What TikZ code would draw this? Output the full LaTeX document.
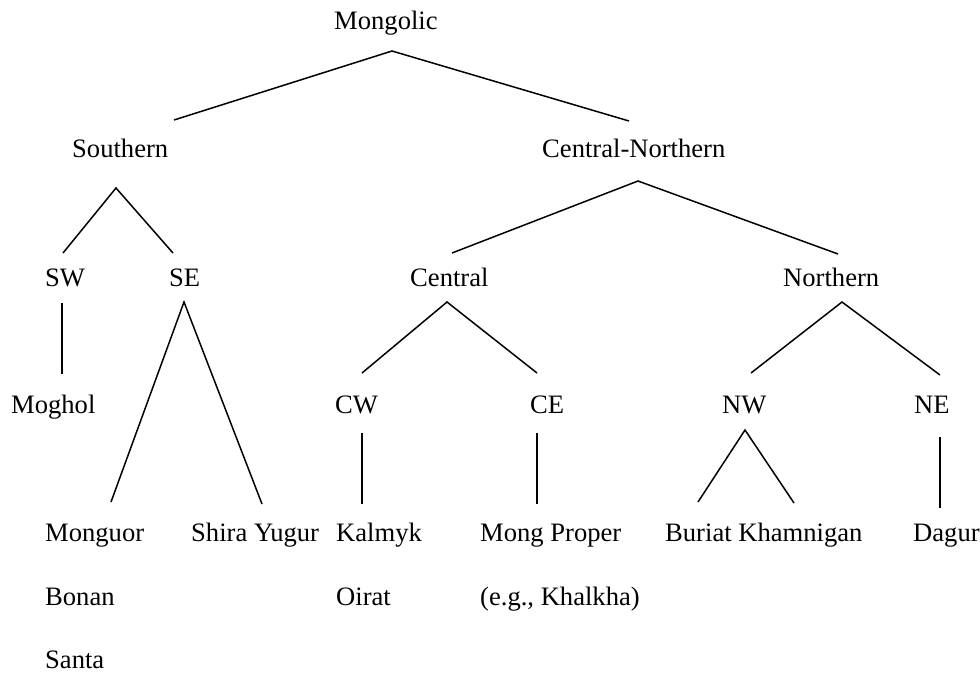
\documentclass[tikz,border=0pt]{standalone}
\usepackage{fontspec}
\setmainfont{Liberation Serif}
\begin{document}
\begin{tikzpicture}[x=1pt,y=-1pt,
  lbl/.style={anchor=base west,inner sep=0pt,font=\fontsize{26.6}{32}\selectfont},
  edge/.style={line width=1.5pt,line cap=butt}]
\useasboundingbox (0,0) rectangle (980,673);
% labels
\node[lbl] (mongolic) at (334,29) {Mongolic};
\node[lbl] (southern) at (72,157) {Southern};
\node[lbl] (cn) at (542,157) {Central-Northern};
\node[lbl] (sw) at (45,286) {SW};
\node[lbl] (se) at (169,286) {SE};
\node[lbl] (central) at (410,286) {Central};
\node[lbl] (northern) at (783,286) {Northern};
\node[lbl] (moghol) at (11,413) {Moghol};
\node[lbl] (cw) at (335,413) {CW};
\node[lbl] (ce) at (530,413) {CE};
\node[lbl] (nw) at (722,413) {NW};
\node[lbl] (ne) at (914,413) {NE};
\node[lbl] (monguor) at (45,541) {Monguor};
\node[lbl] (shira) at (191,541) {Shira Yugur};
\node[lbl] (kalmyk) at (336,541) {Kalmyk};
\node[lbl] (mong) at (480,541) {Mong Proper};
\node[lbl] (buriat) at (665,541) {Buriat Khamnigan};
\node[lbl] (dagur) at (913,541) {Dagur};
\node[lbl] (bonan) at (45,605) {Bonan};
\node[lbl] (oirat) at (336,605) {Oirat};
\node[lbl] (khalkha) at (480,605) {(e.g., Khalkha)};
\node[lbl] (santa) at (45,668) {Santa};
% connector ends
\coordinate (mongolic-b) at (392,51);
\coordinate (southern-t) at (174,120);
\coordinate (cn-t) at (629,121);
\coordinate (southern-b) at (116,188);
\coordinate (sw-t) at (63,253);
\coordinate (se-t) at (173,253);
\coordinate (cn-b) at (638,181);
\coordinate (central-t) at (452,253);
\coordinate (northern-t) at (838,254);
\coordinate (sw-b) at (62,303);
\coordinate (moghol-t) at (62,374);
\coordinate (se-b) at (184,302);
\coordinate (monguor-t) at (111,502);
\coordinate (shira-t) at (262,504);
\coordinate (central-b) at (447,302);
\coordinate (cw-t) at (362,373);
\coordinate (ce-t) at (537,373);
\coordinate (northern-b) at (842,302);
\coordinate (nw-t) at (751,373);
\coordinate (ne-t) at (940,375);
\coordinate (cw-b) at (362,433);
\coordinate (kalmyk-t) at (362,504);
\coordinate (ce-b) at (537,433);
\coordinate (mong-t) at (537,504);
\coordinate (nw-b) at (745,430);
\coordinate (buriat-t) at (698,502);
\coordinate (khamnigan-t) at (794,503);
\coordinate (ne-b) at (940,437);
\coordinate (dagur-t) at (940,508);
% connectors
\draw[edge] (southern-t) -- (mongolic-b) -- (cn-t);
\draw[edge] (sw-t) -- (southern-b) -- (se-t);
\draw[edge] (central-t) -- (cn-b) -- (northern-t);
\draw[edge] (sw-b) -- (moghol-t);
\draw[edge] (monguor-t) -- (se-b) -- (shira-t);
\draw[edge] (cw-t) -- (central-b) -- (ce-t);
\draw[edge] (nw-t) -- (northern-b) -- (ne-t);
\draw[edge] (cw-b) -- (kalmyk-t);
\draw[edge] (ce-b) -- (mong-t);
\draw[edge] (buriat-t) -- (nw-b) -- (khamnigan-t);
\draw[edge] (ne-b) -- (dagur-t);
\end{tikzpicture}
\end{document}
